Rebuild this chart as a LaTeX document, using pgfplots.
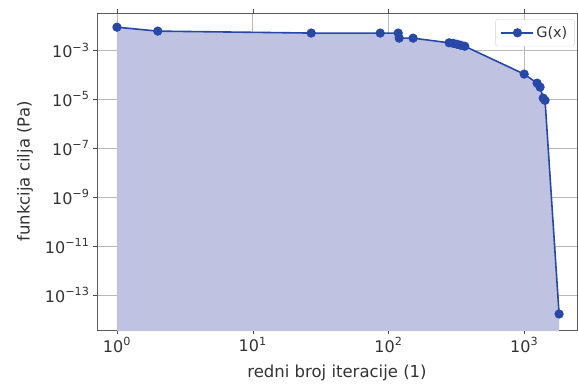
\documentclass[border=0pt]{standalone}
\usepackage{fontspec}
\setmainfont{DejaVu Sans}
\usepackage{pgfplots}
\pgfplotsset{compat=1.18}
\definecolor{lineblue}{RGB}{40,72,168}
\definecolor{fillblue}{RGB}{192,194,226}
\begin{document}
\begin{tikzpicture}
\useasboundingbox (-97pt,-53pt) rectangle (481pt,330pt);
\begin{axis}[
  scale only axis,
  width=480pt, height=317pt,
  xmode=log, ymode=log,
  log basis x=10, log basis y=10,
  xmin=0.713, xmax=2450,
  ymin=3.7e-15, ymax=3.3e-2,
  xtick={1,10,100,1000},
  xticklabels={10\textsuperscript{0},10\textsuperscript{1},10\textsuperscript{2},10\textsuperscript{3}},
  ytick={1e-3,1e-5,1e-7,1e-9,1e-11,1e-13},
  yticklabels={10\textsuperscript{−3},10\textsuperscript{−5},10\textsuperscript{−7},10\textsuperscript{−9},10\textsuperscript{−11},10\textsuperscript{−13}},
  yminorticks=false,
  tick align=outside,
  major tick length=4pt, minor tick length=2.5pt,
  tick style={black!70},
  axis line style={black!65, line width=0.8pt},
  grid=major,
  major grid style={gray!55, line width=0.6pt},
  ticklabel style={font=\fontsize{16}{18}\selectfont, text=black!80},
  xlabel style={font=\fontsize{16.5}{19}\selectfont, text=black!80, yshift=-6pt},
  ylabel style={font=\fontsize{16.5}{19}\selectfont, text=black!80, yshift=5pt},
  xlabel={redni broj iteracije (1)},
  ylabel={funkcija cilja (Pa)},
  legend style={at={(0.995,0.98)}, anchor=north east, draw=gray!35, rounded corners=2pt,
    font=\fontsize{14.5}{16}\selectfont, text=black!80, inner sep=5pt},
  legend image code/.code={\draw[mark repeat=2,mark phase=2] plot coordinates {(0pt,0pt) (16pt,0pt) (32pt,0pt)};},
  legend cell align=left,
]
\addplot[fill=fillblue, draw=none, forget plot] coordinates {
(1,1e-16)
(1,8.7e-3) (2,6.0e-3) (27,5.0e-3) (87,5.0e-3) (118,5.0e-3) (120,3.1e-3) (152,3.1e-3)
(280,2.0e-3) (300,1.9e-3) (320,1.75e-3) (340,1.6e-3) (365,1.45e-3)
(1000,1.05e-4) (1245,4.5e-5) (1310,3.1e-5) (1380,1.1e-5) (1425,8.9e-6)
(1808,1.66e-14)
(1808,1e-16)
} -- cycle;
\addplot[color=lineblue, line width=1.6pt, mark=*, mark size=3.8pt,
  mark options={fill=lineblue, draw=lineblue}] coordinates {
(1,8.7e-3) (2,6.0e-3) (27,5.0e-3) (87,5.0e-3) (118,5.0e-3) (120,3.1e-3) (152,3.1e-3)
(280,2.0e-3) (300,1.9e-3) (320,1.75e-3) (340,1.6e-3) (365,1.45e-3)
(1000,1.05e-4) (1245,4.5e-5) (1310,3.1e-5) (1380,1.1e-5) (1425,8.9e-6)
(1808,1.66e-14)
};
\addlegendentry{G(x)}
\end{axis}
\end{tikzpicture}
\end{document}
